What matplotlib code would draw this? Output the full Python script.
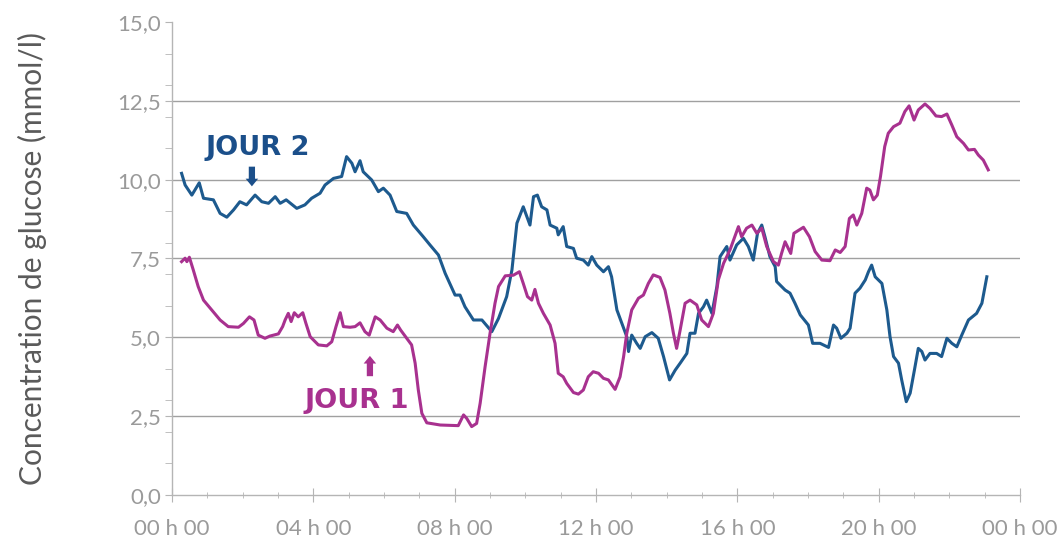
import matplotlib
matplotlib.use("Agg")
import matplotlib.pyplot as plt
from matplotlib.ticker import MultipleLocator, FixedLocator

# JOUR 1 (magenta) - hours / mmol/l
jour1_h = [0.27, 0.37, 0.42, 0.49, 0.6, 0.74, 0.89, 1.12, 1.36, 1.59, 1.88, 2.02,
           2.19, 2.32, 2.44, 2.63, 2.77, 3.01, 3.13, 3.2, 3.29, 3.37, 3.46, 3.57,
           3.7, 3.79, 3.91, 4.14, 4.38, 4.52, 4.64, 4.76, 4.85, 5.04, 5.18, 5.32,
           5.46, 5.58, 5.75, 5.89, 6.08, 6.26, 6.38, 6.47, 6.64, 6.78, 6.88, 6.97,
           7.07, 7.21, 7.59, 8.1, 8.25, 8.34, 8.48, 8.62, 8.72, 8.86, 9.0, 9.14,
           9.24, 9.43, 9.66, 9.83, 9.94, 10.06, 10.18, 10.27, 10.37, 10.51, 10.7,
           10.84, 10.93, 11.07, 11.17, 11.36, 11.5, 11.64, 11.78, 11.92, 12.07,
           12.21, 12.35, 12.54, 12.68, 12.78, 12.87, 13.01, 13.2, 13.34, 13.48,
           13.62, 13.81, 13.95, 14.09, 14.19, 14.28, 14.38, 14.52, 14.66, 14.85,
           14.99, 15.18, 15.32, 15.46, 15.61, 15.79, 16.03, 16.12, 16.26, 16.41,
           16.55, 16.69, 16.83, 17.02, 17.16, 17.25, 17.35, 17.51, 17.6, 17.87,
           18.04, 18.2, 18.39, 18.62, 18.77, 18.91, 19.05, 19.17, 19.28, 19.38,
           19.52, 19.66, 19.75, 19.85, 19.96, 20.05, 20.17, 20.27, 20.42, 20.6,
           20.74, 20.86, 21.0, 21.12, 21.31, 21.45, 21.62, 21.78, 21.93, 22.07,
           22.21, 22.4, 22.54, 22.71, 22.82, 22.96, 23.1]
jour1_v = [7.4, 7.51, 7.4, 7.54, 7.14, 6.61, 6.18, 5.87, 5.55, 5.34, 5.32, 5.44,
           5.65, 5.55, 5.07, 4.97, 5.04, 5.11, 5.34, 5.55, 5.76, 5.5, 5.78, 5.65,
           5.78, 5.44, 5.02, 4.76, 4.73, 4.86, 5.34, 5.78, 5.34, 5.32, 5.34, 5.46,
           5.18, 5.07, 5.65, 5.55, 5.29, 5.18, 5.39, 5.23, 4.97, 4.76, 4.18, 3.33,
           2.59, 2.29, 2.22, 2.2, 2.54, 2.43, 2.17, 2.27, 2.91, 4.07, 5.13, 6.08,
           6.61, 6.95, 6.97, 7.08, 6.71, 6.29, 6.18, 6.52, 6.08, 5.76, 5.39,
           4.81, 3.86, 3.75, 3.54, 3.25, 3.2, 3.33, 3.75, 3.91, 3.86,
           3.7, 3.65, 3.35, 3.75, 4.39, 5.13, 5.87, 6.24, 6.34, 6.71,
           6.98, 6.9, 6.5, 5.76, 5.13, 4.65, 5.23, 6.08, 6.18, 6.03,
           5.55, 5.34, 5.76, 6.82, 7.35, 7.77, 8.51, 8.19, 8.46, 8.56,
           8.3, 8.46, 7.88, 7.4, 7.29, 7.66, 8.03, 7.66, 8.3, 8.49,
           8.19, 7.72, 7.45, 7.43, 7.77, 7.69, 7.88, 8.77, 8.88, 8.56,
           8.93, 9.73, 9.67, 9.36, 9.51, 10.1, 11.05, 11.47, 11.68, 11.79,
           12.16, 12.34, 11.89, 12.21, 12.4, 12.26, 12.02, 12.0, 12.08, 11.73,
           11.36, 11.15, 10.94, 10.96, 10.78, 10.62, 10.31]

# JOUR 2 (blue)
jour2_h = [0.27, 0.37, 0.56, 0.77, 0.89, 1.17, 1.36, 1.55, 1.74, 1.92, 2.11, 2.35,
           2.54, 2.73, 2.92, 3.06, 3.23, 3.53, 3.76, 3.95, 4.19, 4.33, 4.57, 4.8,
           4.94, 5.09, 5.18, 5.32, 5.41, 5.65, 5.84, 5.98, 6.17, 6.36, 6.64, 6.83,
           7.11, 7.3, 7.54, 7.73, 8.01, 8.15, 8.29, 8.53, 8.77, 9.05, 9.24, 9.47,
           9.62, 9.76, 9.94, 10.13, 10.23, 10.34, 10.46, 10.61, 10.7, 10.89, 10.93,
           11.07, 11.17, 11.36, 11.45, 11.64, 11.78, 11.88, 12.02, 12.21, 12.35,
           12.44, 12.59, 12.73, 12.87, 12.92, 13.01, 13.15, 13.25, 13.39, 13.58,
           13.76, 13.91, 14.08, 14.24, 14.38, 14.57, 14.66, 14.8, 14.9, 15.04,
           15.13, 15.28, 15.42, 15.51, 15.7, 15.79, 15.98, 16.17, 16.31, 16.45,
           16.57, 16.69, 16.78, 16.92, 17.07, 17.11, 17.35, 17.49, 17.63, 17.78,
           18.01, 18.13, 18.34, 18.58, 18.72, 18.81, 18.93, 19.1, 19.19, 19.33,
           19.47, 19.62, 19.71, 19.8, 19.9, 20.09, 20.23, 20.32, 20.42, 20.56,
           20.65, 20.78, 20.89, 21.01, 21.12, 21.22, 21.31, 21.45, 21.64, 21.78,
           21.93, 22.07, 22.21, 22.35, 22.54, 22.77, 22.92, 23.06]
jour2_v = [10.2, 9.83, 9.51, 9.9, 9.41, 9.36, 8.93, 8.81, 9.04, 9.3, 9.2, 9.51,
           9.3, 9.25, 9.46, 9.25, 9.36, 9.09, 9.2, 9.41, 9.57, 9.83, 10.04, 10.1,
           10.73, 10.52, 10.25, 10.6, 10.25, 9.99, 9.62, 9.73, 9.51, 8.99, 8.93, 8.56,
           8.19, 7.93, 7.61, 7.03, 6.34, 6.34, 5.97, 5.55, 5.55, 5.18, 5.6, 6.29,
           7.14, 8.62, 9.14, 8.56, 9.46, 9.51, 9.14, 9.04, 8.56, 8.46, 8.25,
           8.51, 7.88, 7.82, 7.51, 7.45, 7.29, 7.56, 7.29, 7.08, 7.24,
           6.92, 5.87, 5.44, 5.02, 4.55, 5.07, 4.81, 4.65, 5.02, 5.15,
           4.97, 4.39, 3.65, 3.96, 4.18, 4.49, 5.13, 5.13, 5.76, 5.97,
           6.18, 5.76, 6.61, 7.56, 7.88, 7.45, 7.93, 8.14, 7.88, 7.45,
           8.3, 8.56, 8.19, 7.56, 7.24, 6.77, 6.5, 6.4, 6.08, 5.71,
           5.39, 4.81, 4.81, 4.68, 5.39, 5.29, 4.97, 5.13, 5.29, 6.4,
           6.56, 6.82, 7.08, 7.29, 6.92, 6.71, 5.87, 5.02, 4.39, 4.18,
           3.65, 2.96, 3.23, 3.96, 4.65, 4.55, 4.28, 4.49, 4.49, 4.39,
           4.97, 4.81, 4.7, 5.07, 5.55, 5.76, 6.08, 6.92]

x_ticks = [0, 4, 8, 12, 16, 20, 24]
x_labels = ["00 h 00", "04 h 00", "08 h 00", "12 h 00", "16 h 00", "20 h 00", "00 h 00"]
y_ticks = [0, 2.5, 5, 7.5, 10, 12.5, 15]
y_labels = ["0,0", "2,5", "5,0", "7,5", "10,0", "12,5", "15,0"]

BLUE = "#1d5a8e"
MAGENTA = "#a8318f"
GREY_TXT = "#9a9a9a"

fig = plt.figure(figsize=(10.62, 5.45), dpi=100)
ax = fig.add_axes([0.162, 0.0917, 0.7985, 0.868])

ax.plot(jour2_h, jour2_v, color=BLUE, lw=2.2, solid_joinstyle="round")
ax.plot(jour1_h, jour1_v, color=MAGENTA, lw=2.2, solid_joinstyle="round")

ax.set_xlim(0, 24)
ax.set_ylim(0, 15)

for y in y_ticks[1:-1]:
    ax.axhline(y, color="#a0a0a0", lw=1.0, zorder=0)

for s in ["top", "right"]:
    ax.spines[s].set_visible(False)
for s in ["left", "bottom"]:
    ax.spines[s].set_color("#b5b5b5")
    ax.spines[s].set_linewidth(1.0)

ax.set_xticks(x_ticks)
ax.set_xticklabels(x_labels)
ax.xaxis.set_minor_locator(MultipleLocator(1))
ax.set_yticks(y_ticks)
ax.set_yticklabels(y_labels)
ax.yaxis.set_minor_locator(FixedLocator([1, 2, 3, 4, 6, 7, 8, 9, 11, 12, 13, 14]))

ax.tick_params(axis="x", which="major", direction="inout", length=10, color="#b5b5b5",
               labelsize=16, labelcolor=GREY_TXT, pad=12)
ax.tick_params(axis="x", which="minor", direction="inout", length=5, color="#b5b5b5")
ax.tick_params(axis="y", which="both", direction="out", length=5, color="#b5b5b5",
               labelsize=16, labelcolor=GREY_TXT, pad=3)
for lbl in ax.get_xticklabels() + ax.get_yticklabels():
    lbl.set_fontfamily("Lato")

ax.set_ylabel("Concentration de glucose (mmol/l)", fontsize=21.5, color="#5a5a5a",
              family="Lato")
ax.yaxis.set_label_coords(-0.147, 0.5)

# annotations
ARROW = "simple,head_length=0.55,head_width=0.9,tail_width=0.45"
ax.text(2.43, 11.0, "JOUR 2", color="#1b4f8a", fontsize=19.5, fontweight="bold",
        ha="center", va="center")
ax.annotate("", xy=(2.26, 9.7), xytext=(2.26, 10.5),
            arrowprops=dict(arrowstyle=ARROW, color="#1b4f8a", lw=0))
ax.text(5.24, 2.98, "JOUR 1", color=MAGENTA, fontsize=19.5, fontweight="bold",
        ha="center", va="center")
ax.annotate("", xy=(5.6, 4.5), xytext=(5.6, 3.68),
            arrowprops=dict(arrowstyle=ARROW, color=MAGENTA, lw=0))

fig.savefig("out.png", dpi=100)
